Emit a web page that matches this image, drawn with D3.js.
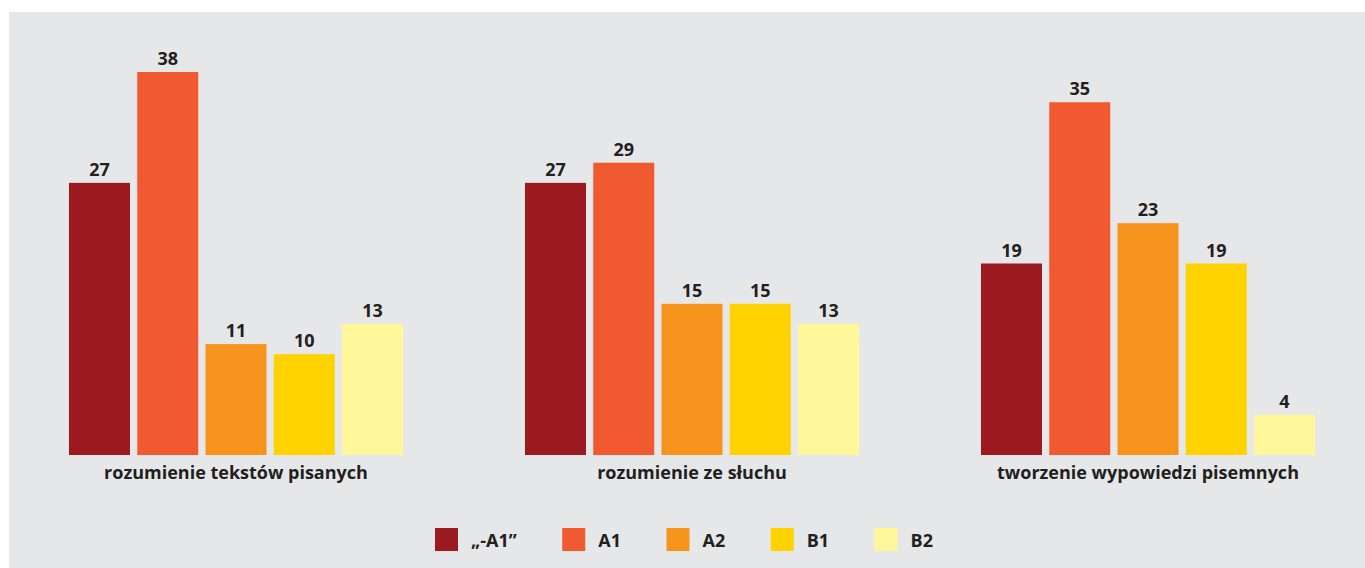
<!DOCTYPE html>
<html>
<head>
<meta charset="utf-8">
<script src="https://cdn.jsdelivr.net/npm/d3@7"></script>
<style>
  html, body { margin: 0; padding: 0; background: #ffffff; }
  svg { display: block; }
  text { font-family: "Open Sans", "DejaVu Sans", sans-serif; font-weight: 700; fill: #231f20; }
</style>
</head>
<body>
<svg id="chart" width="1365" height="568"></svg>
<script>
// ---- data ----
const categories = ["rozumienie tekstów pisanych", "rozumienie ze słuchu", "tworzenie wypowiedzi pisemnych"];
const levels = ["„-A1”", "A1", "A2", "B1", "B2"];
const values = {
  "„-A1”": [27, 27, 19],
  "A1":    [38, 29, 35],
  "A2":    [11, 15, 23],
  "B1":    [10, 15, 19],
  "B2":    [13, 13, 4]
};
const colors = ["#9b1a20", "#f15a30", "#f7941d", "#ffd200", "#fff799"];

// ---- layout ----
const W = 1365, H = 568;
const FS = 18;
const svg = d3.select("#chart");
svg.append("rect").attr("x", 9).attr("y", 12).attr("width", W - 9).attr("height", H - 12).attr("fill", "#e6e7e9");

const baseY = 455;
const y = d3.scaleLinear().domain([0, 38]).range([baseY, 72]);

const x0 = d3.scaleBand().domain(categories).range([8, 1376]).padding(0);
const x1 = d3.scaleBand().domain(levels).range([61, 395]).paddingInner(0.106).paddingOuter(0);
const color = d3.scaleOrdinal().domain(levels).range(colors);

const groups = svg.append("g").selectAll("g").data(categories).join("g")
  .attr("transform", d => `translate(${x0(d)},0)`);

const rows = (c, ci) => levels.map(l => ({ level: l, value: values[l][ci] }));

groups.each(function(c, ci) {
  const g = d3.select(this);
  const data = rows(c, ci);
  g.selectAll("rect").data(data).join("rect")
    .attr("x", d => x1(d.level))
    .attr("y", d => y(d.value))
    .attr("width", x1.bandwidth())
    .attr("height", d => baseY - y(d.value))
    .attr("fill", d => color(d.level));
  g.selectAll("text.val").data(data).join("text").attr("class", "val")
    .attr("x", d => x1(d.level) + x1.bandwidth() / 2)
    .attr("y", d => y(d.value) - 7)
    .attr("text-anchor", "middle")
    .attr("font-size", FS)
    .text(d => d.value);
  g.append("text")
    .attr("x", (x1.range()[0] + x1.range()[1]) / 2)
    .attr("y", 479)
    .attr("text-anchor", "middle")
    .attr("font-size", FS)
    .text(c);
});

// ---- legend ----
const legend = svg.append("g");
const items = legend.selectAll("g").data(levels).join("g");
items.append("rect").attr("width", 23).attr("height", 23).attr("y", 528).attr("fill", d => color(d));
items.append("text").attr("x", 36).attr("y", 547).attr("font-size", FS).text(d => d);
const widths = [];
items.each(function(d) {
  widths.push(d3.select(this).select("text").node().getComputedTextLength());
});
const gapItem = 45.5;
let startX = 435;
items.each(function(d, i) {
  d3.select(this).attr("transform", `translate(${startX},0)`);
  startX += 36 + widths[i] + gapItem;
});
</script>
</body>
</html>
